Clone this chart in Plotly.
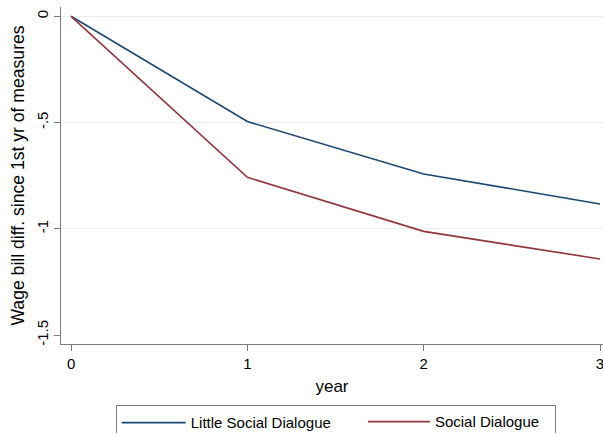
import plotly.graph_objects as go

years = [0, 1, 2, 3]
little_social_dialogue = [0.0, -0.495, -0.742, -0.883]
social_dialogue = [0.0, -0.758, -1.012, -1.142]
series_names = ["Little Social Dialogue", "Social Dialogue"]
series_colors = ["#1a476f", "#90353b"]
series_legends = ["legend", "legend2"]
y_tick_vals = [0, -0.5, -1, -1.5]
y_tick_text = ["0", "-.5", "-1", "-1.5"]
grid_vals = [0, -0.5, -1]
x_tick_vals = [0, 1, 2, 3]

FONT = "Arial, Liberation Sans, sans-serif"

fig = go.Figure()
# invisible trace to carry grid-only axis (drawn first)
fig.add_trace(go.Scatter(x=[years[0]], y=[little_social_dialogue[0]], yaxis="y2",
                         mode="markers", marker=dict(opacity=0), showlegend=False,
                         hoverinfo="skip"))
for name, vals, col, lg in zip(series_names, [little_social_dialogue, social_dialogue],
                               series_colors, series_legends):
    fig.add_trace(go.Scatter(x=years, y=vals, mode="lines", name=name, legend=lg,
                             line=dict(color=col, width=1.6)))

yr = [-1.542, 0.0437]
fig.update_layout(
    width=603, height=433,
    margin=dict(l=61, r=0, t=7, b=88.5, autoexpand=False),
    paper_bgcolor="white", plot_bgcolor="white",
    font=dict(family=FONT, size=15, color="black"),
    xaxis=dict(range=[-0.057, 3.017], tickvals=x_tick_vals, showgrid=False,
               zeroline=False, showline=True, linecolor="#7a7a7a", linewidth=1.3,
               ticks="outside", ticklen=6, tickcolor="#7a7a7a", tickwidth=1.3,
               tickfont=dict(size=15), ticklabeloverflow="allow",
               title=dict(text="year", font=dict(size=17), standoff=8)),
    yaxis=dict(range=yr, tickvals=y_tick_vals, ticktext=y_tick_text, showgrid=False,
               zeroline=False, showline=True, linecolor="#7a7a7a", linewidth=1.3,
               ticks="outside", ticklen=6, tickcolor="#7a7a7a", tickwidth=1.3,
               tickangle=-90, tickfont=dict(size=15),
               title=dict(text="Wage bill diff. since 1st yr of measures",
                          font=dict(size=17.6), standoff=4)),
    yaxis2=dict(range=yr, overlaying="y", tickvals=grid_vals, showgrid=True,
                gridcolor="#e6eef1", gridwidth=1, showticklabels=False,
                zeroline=False, showline=False, ticks=""),
    legend=dict(orientation="h", x=0.101, xanchor="left", y=-0.182, yanchor="top",
                bordercolor="#7a7a7a", borderwidth=1, itemwidth=64, bgcolor="white",
                entrywidth=359, font=dict(size=15)),
    legend2=dict(orientation="h", x=0.557, xanchor="left", y=-0.182, yanchor="top",
                 borderwidth=0, itemwidth=62, bgcolor="rgba(0,0,0,0)",
                 entrywidth=110, font=dict(size=15)),
    showlegend=True,
)

fig.write_html("out.html")
